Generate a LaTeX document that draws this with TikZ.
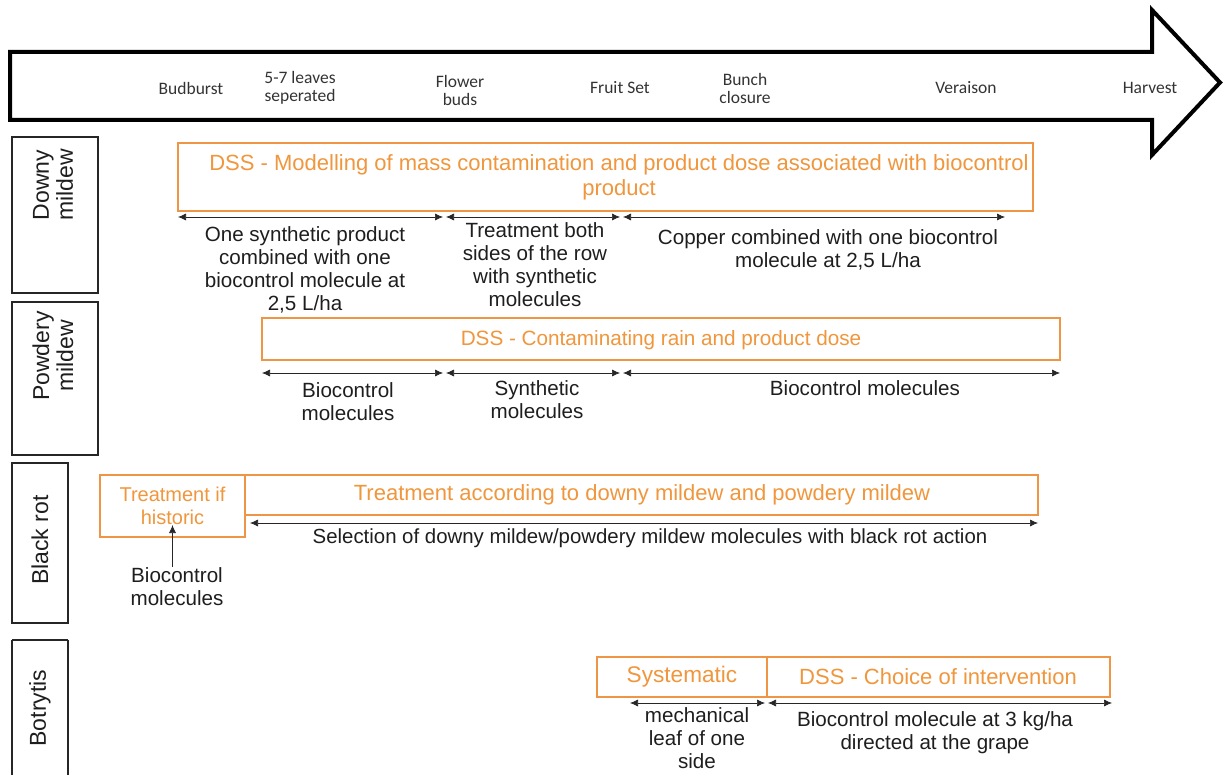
\documentclass[tikz,border=0pt]{standalone}
\usepackage{fontspec}
\setmainfont{Liberation Sans}
\newfontfamily\calfont{Carlito}
\usetikzlibrary{arrows.meta}
\definecolor{orng}{RGB}{238,150,70}
\definecolor{otext}{RGB}{240,150,60}
\definecolor{dtext}{RGB}{30,30,30}
\tikzset{
  stage/.style={font=\calfont\fontsize{17.5}{18}\selectfont, text=black!80, align=center, inner sep=0pt},
  disease/.style={draw=black!85, line width=1.3pt},
  dlabel/.style={rotate=90, font=\fontsize{23}{24}\selectfont, align=center, inner sep=0pt, text=dtext},
  obox/.style={draw=orng, line width=1.3pt, fill=white},
  otxt/.style={font=\fontsize{22}{25}\selectfont, text=otext, align=center, inner sep=0pt},
  btxt/.style={font=\fontsize{20.6}{23}\selectfont, text=dtext, align=center, inner sep=0pt},
  span/.style={{Latex[length=8pt,width=7pt]}-{Latex[length=8pt,width=7pt]}, line width=0.7pt, draw=black!85},
  upar/.style={-{Latex[length=8pt,width=7pt]}, line width=0.7pt, draw=black!85}
}
\begin{document}
\begin{tikzpicture}[x=1pt,y=-1pt]
\useasboundingbox (0,0) rectangle (1223,775);
% big timeline arrow
\draw[line width=4pt, miter limit=10] (10,52) -- (1152,52) -- (1152,10) -- (1220,82.5) -- (1152,155) -- (1152,120) -- (10,120) -- cycle;
\node[stage] (s1) at (191,88) {Budburst};
\node[stage] (s2) at (300,88) {5-7 leaves\\seperated};
\node[stage] (s3) at (460,90) {Flower\\buds};
\node[stage] (s4) at (620,88) {Fruit Set};
\node[stage] (s5) at (745,88) {Bunch\\closure};
\node[stage] (s6) at (966,88) {Veraison};
\node[stage] (s7) at (1150,88) {Harvest};

% disease boxes
\draw[disease] (12,137) rectangle (98,293);
\node[dlabel] (d1) at (53,185) {Downy\\mildew};
\draw[disease] (12,302) rectangle (98,455);
\node[dlabel] (d2) at (53,356) {Powdery\\mildew};
\draw[disease] (12,463) rectangle (68,623);
\node[dlabel] (d3) at (40,540) {Black rot};
\draw[disease] (12,640) -- (12,775) (68,640) -- (68,775) (12,640) -- (68,640);
\node[dlabel] (d4) at (40,708) {Botrytis};

% Downy mildew row
\draw[obox] (178,143) rectangle (1033,211);
\node[otxt] (dss1) at (619,177) {DSS - Modelling of mass contamination and product dose associated with biocontrol\\product};
\coordinate (a1) at (178,217); \coordinate (a2) at (443,217);
\coordinate (a3) at (446,217); \coordinate (a4) at (620,217);
\coordinate (a5) at (623,217); \coordinate (a6) at (1005,217);
\draw[span] (a1) -- (a2);
\draw[span] (a3) -- (a4);
\draw[span] (a5) -- (a6);
\node[btxt, anchor=north] (l1) at (305,226) {One synthetic product\\combined with one\\biocontrol molecule at\\2,5 L/ha};
\node[btxt, anchor=north] (l2) at (535,222) {Treatment both\\sides of the row\\with synthetic\\molecules};
\node[btxt, anchor=north] (l3) at (828,229) {Copper combined with one biocontrol\\molecule at 2,5 L/ha};

% Powdery mildew row
\draw[obox] (262,318) rectangle (1060,360);
\node[otxt, font=\fontsize{20.7}{24}\selectfont] (dss2) at (661,340) {DSS - Contaminating rain and product dose};
\coordinate (b1) at (262,373); \coordinate (b2) at (443,373);
\coordinate (b3) at (446,373); \coordinate (b4) at (620,373);
\coordinate (b5) at (623,373); \coordinate (b6) at (1060,373);
\draw[span] (b1) -- (b2);
\draw[span] (b3) -- (b4);
\draw[span] (b5) -- (b6);
\node[btxt, anchor=north] (m1) at (348,382) {Biocontrol\\molecules};
\node[btxt, anchor=north] (m2) at (537,380) {Synthetic\\molecules};
\node[btxt, anchor=north] (m3) at (865,380) {Biocontrol molecules};

% Black rot row
\draw[obox] (100,475) rectangle (245,537);
\node[otxt, font=\fontsize{20}{23}\selectfont] (hist) at (172.5,506) {Treatment if\\historic};
\draw[obox] (245,475) rectangle (1038,515);
\node[otxt] (acc) at (642,495) {Treatment according to downy mildew and powdery mildew};
\coordinate (c1) at (250,523); \coordinate (c2) at (1038,523);
\draw[span] (c1) -- (c2);
\node[btxt, anchor=north, font=\fontsize{20.4}{23}\selectfont] (sel) at (650,529) {Selection of downy mildew/powdery mildew molecules with black rot action};
\node[btxt, anchor=north] (bio) at (177,567) {Biocontrol\\molecules};
\draw[upar] (bio.north -| hist.south) -- (hist.south);

% Botrytis row
\draw[obox] (597,657) rectangle (767,697);
\node[otxt, font=\fontsize{22.6}{25}\selectfont] (sys) at (682,677) {Systematic};
\draw[obox] (767,657) rectangle (1110,697);
\node[otxt, font=\fontsize{22}{25}\selectfont] (choice) at (938,677) {DSS - Choice of intervention};
\coordinate (e1) at (630,703); \coordinate (e2) at (765,703);
\coordinate (e3) at (768,703); \coordinate (e4) at (1112,703);
\draw[span] (e1) -- (e2);
\draw[span] (e3) -- (e4);
\node[btxt, anchor=north] (mech) at (697,707) {mechanical\\leaf of one\\side};
\node[btxt, anchor=north] (gr) at (935,711) {Biocontrol molecule at 3 kg/ha\\directed at the grape};
\end{tikzpicture}
\end{document}
